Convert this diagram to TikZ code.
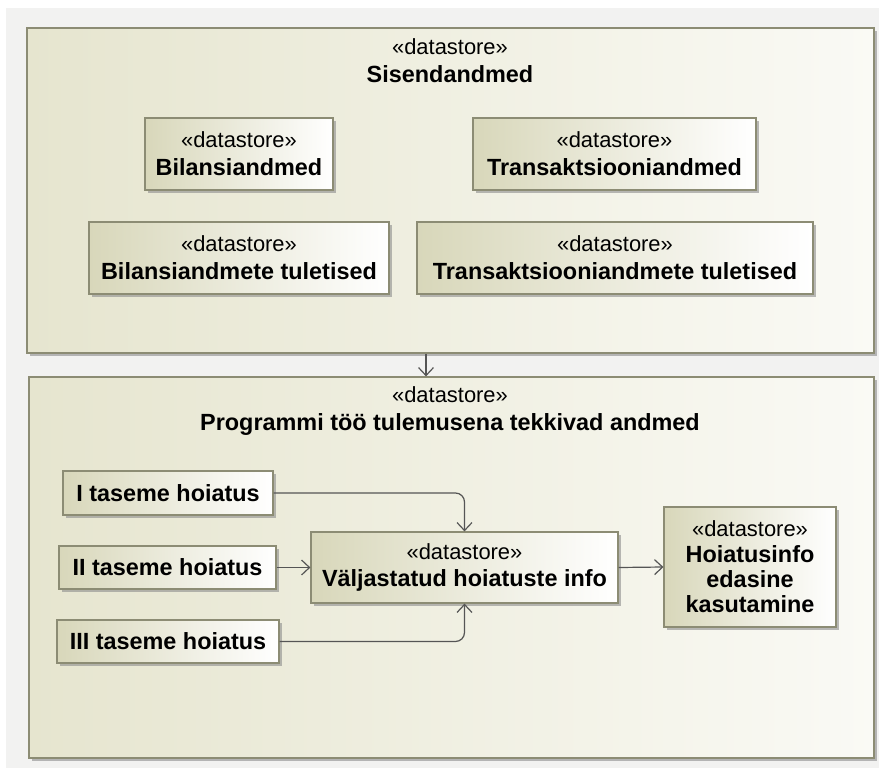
\documentclass[tikz,border=0pt]{standalone}
\usepackage{fontspec}
\setmainfont{Liberation Sans}
\usetikzlibrary{arrows.meta,shadows}
\definecolor{edgec}{HTML}{8C8C74}
\definecolor{pkgL}{HTML}{E6E5CF}
\definecolor{pkgR}{HTML}{FAFAF5}
\definecolor{storeL}{HTML}{D8D7BA}
\definecolor{linec}{HTML}{555555}
\definecolor{bgc}{HTML}{F2F2F1}
\newcommand{\nm}[1]{{\fontsize{23.5}{28}\selectfont\bfseries #1}}
\begin{document}
\begin{tikzpicture}[x=1bp,y=-1bp,
  base/.style={draw=edgec, line width=1.2bp, inner sep=0pt, align=center,
    font=\fontsize{22}{28}\selectfont,
    drop shadow={shadow xshift=3bp, shadow yshift=-3bp, fill=black!45, opacity=0.6}},
  pkg/.style={base, left color=pkgL, right color=pkgR},
  store/.style={base, left color=storeL, right color=white},
  title/.style={inner sep=0pt, align=center, font=\fontsize{22}{28}\selectfont},
  flow/.style={draw=linec, line width=1.2bp, rounded corners=9bp,
    -{Straight Barb[length=8bp, width=15bp, line width=1.2bp]}}]
  % canvas
  \useasboundingbox (0,0) rectangle (883,771);
  \fill[white] (0,0) rectangle (883,771);
  \fill[bgc] (6,8) rectangle (879,768);

  % input data package
  \node[pkg, minimum width=847bp, minimum height=325bp] (b1) at (450.5,190.5) {};
  \node[title] (t1) at (450,61) {«datastore»\\\nm{Sisendandmed}};
  \node[store, minimum width=188bp, minimum height=72bp] (bil) at (239,154)
    {«datastore»\\\nm{Bilansiandmed}};
  \node[store, minimum width=283bp, minimum height=72bp] (tra) at (614.5,154)
    {«datastore»\\\nm{Transaktsiooniandmed}};
  \node[store, minimum width=300bp, minimum height=72bp] (bilt) at (239,258)
    {«datastore»\\\nm{Bilansiandmete tuletised}};
  \node[store, minimum width=396bp, minimum height=72bp] (trat) at (615,258)
    {«datastore»\\\nm{Transaktsiooniandmete tuletised}};

  % results package
  \node[pkg, minimum width=845bp, minimum height=381bp] (b2) at (451.5,567.5) {};
  \node[title] (t2) at (450,411) {«datastore»\\\nm{Programmi töö tulemusena tekkivad andmed}};
  \node[store, minimum width=210bp, minimum height=44bp] (h1) at (168,493)
    {\nm{I taseme hoiatus}};
  \node[store, minimum width=217bp, minimum height=43bp] (h2) at (167.5,567.5)
    {\nm{II taseme hoiatus}};
  \node[store, minimum width=222bp, minimum height=43bp] (h3) at (168,641.5)
    {\nm{III taseme hoiatus}};
  \node[store, minimum width=307bp, minimum height=71bp] (vh) at (464.5,567.5)
    {«datastore»\\\nm{Väljastatud hoiatuste info}};
  \node[store, minimum width=172bp, minimum height=120bp] (hi) at (750,567)
    {«datastore»\\[-2bp]\nm{Hoiatusinfo}\\[-3bp]\nm{edasine}\\[-3bp]\nm{kasutamine}};

  % connectors
  \coordinate (pk) at (426,0);
  \draw[flow] (b1.south -| pk) -- (b2.north -| pk);
  \draw[flow] (h1.east) -| (vh.north);
  \draw[flow] (h2.east) -- (vh.west);
  \draw[flow] (h3.east) -| (vh.south);
  \draw[flow] (vh.east) -- (hi.west);
\end{tikzpicture}
\end{document}
